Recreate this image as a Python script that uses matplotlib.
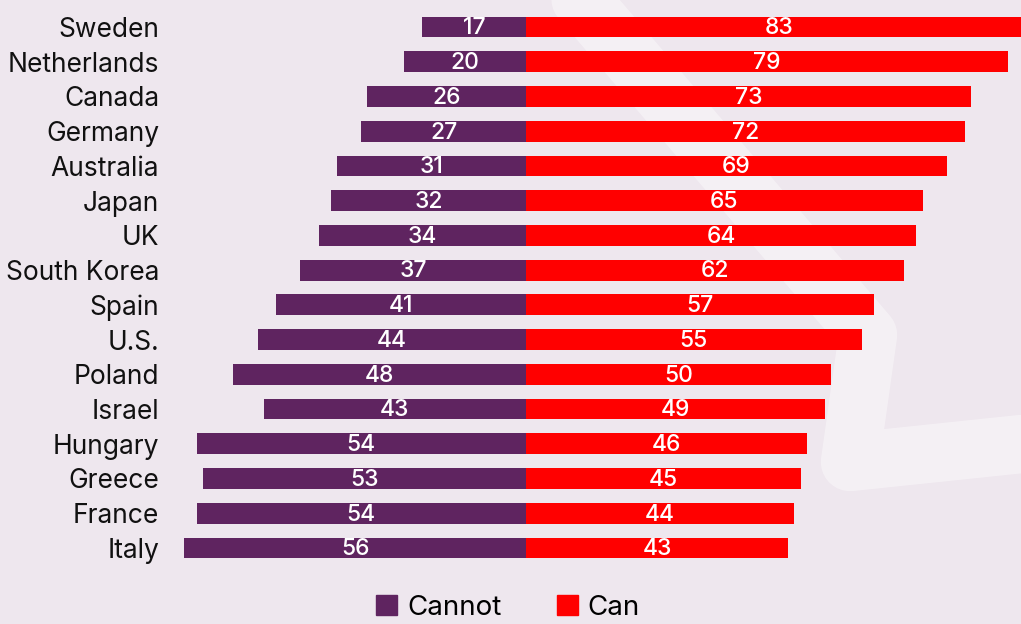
import matplotlib.pyplot as plt
from matplotlib.patches import Patch

# data, top row first
countries = ["Sweden", "Netherlands", "Canada", "Germany", "Australia", "Japan", "UK",
             "South Korea", "Spain", "U.S.", "Poland", "Israel", "Hungary", "Greece",
             "France", "Italy"]
cannot = [17, 20, 26, 27, 31, 32, 34, 37, 41, 44, 48, 43, 54, 53, 54, 56]
can = [83, 79, 73, 72, 69, 65, 64, 62, 57, 55, 50, 49, 46, 45, 44, 43]

bg = "#EEE7EE"
purple = "#5F2460"
red = "#FF0000"

plt.rcParams["font.family"] = ["Inter", "DejaVu Sans"]

W, H = 1021, 624
fig = plt.figure(figsize=(W / 100, H / 100), dpi=100, facecolor=bg)

# faint decorative stroke in the background
deco = fig.add_axes([0, 0, 1, 1], zorder=0)
deco.set_xlim(0, W)
deco.set_ylim(H, 0)
deco.axis("off")
deco.set_facecolor(bg)
deco.plot([560, 868, 850, 1060], [-25, 335, 462, 440], color="white", alpha=0.4,
          lw=42, solid_capstyle="round", solid_joinstyle="round")

# main bar axes
px = 6.1  # pixels per unit
left_px, top_px, bot_px = 180, 0, 570
center_px = 526
row0, step = 27, 34.73
ax = fig.add_axes([left_px / W, 1 - bot_px / H, (W - left_px) / W, (bot_px - top_px) / H], zorder=1)
ax.patch.set_alpha(0)
ax.set_xlim(-(center_px - left_px) / px, (W - center_px) / px)
ax.set_ylim((bot_px - row0) / step, (top_px - row0) / step)

y = list(range(len(countries)))
ax.barh(y, [-v for v in cannot], height=0.6, color=purple, label="Cannot")
ax.barh(y, can, height=0.6, color=red, label="Can")

for i in y:
    ax.text(-cannot[i] / 2, i + 0.04, str(cannot[i]), color="white", ha="center", va="center",
            fontsize=16.5, fontweight="medium")
    ax.text(can[i] / 2, i + 0.04, str(can[i]), color="white", ha="center", va="center",
            fontsize=16.5, fontweight="medium")

ax.set_yticks(y)
ax.set_yticklabels(countries, fontsize=19, color="#111111")
ax.tick_params(axis="y", length=0, pad=15)
ax.set_xticks([])
for s in ax.spines.values():
    s.set_visible(False)

handles = [Patch(color=purple, label="Cannot"), Patch(color=red, label="Can")]
fig.legend(handles=handles, loc="center", bbox_to_anchor=(508 / W, 1 - 608 / H), ncol=2,
           frameon=False, fontsize=20, handlelength=0.75, handleheight=0.75,
           handletextpad=0.35, columnspacing=2.0)

fig.savefig("out.png", dpi=100, facecolor=bg)
